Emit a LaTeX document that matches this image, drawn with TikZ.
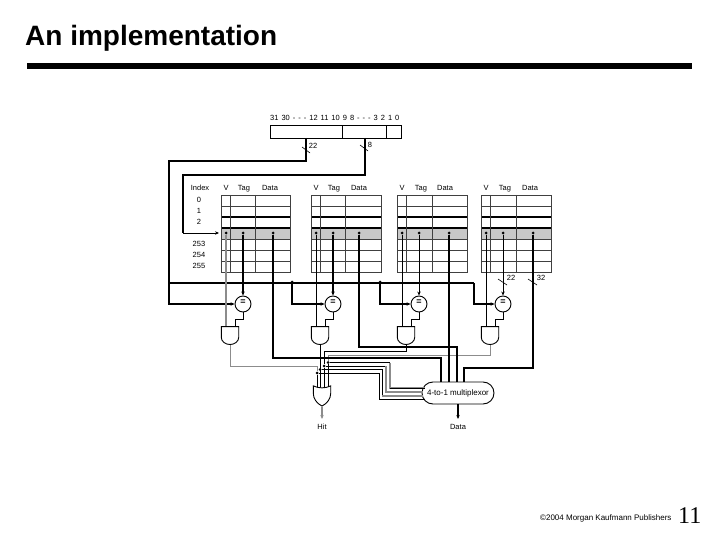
\documentclass[tikz,border=0pt]{standalone}
\usepackage{fontspec}
\setmainfont{Liberation Sans}
\newfontfamily\serifnum{Liberation Serif}
\usetikzlibrary{arrows.meta,calc,shapes.misc,shapes.gates.logic.US}
\definecolor{wiregray}{RGB}{140,140,140}
\definecolor{rowgray}{RGB}{200,200,200}
\tikzset{
    lbl/.style={inner sep=0pt, font=\fontsize{7.5}{8}\selectfont},
    grid/.style={line width=0.7pt, black!75},
    wire/.style={line width=1pt},
    tap/.style={line width=1.3pt},
    heavy/.style={line width=1.6pt},
    bus/.style={line width=2.2pt},
    gwire/.style={line width=1.4pt, wiregray},
    slash/.style={line width=0.6pt},
    dotnode/.style={circle, fill=black, inner sep=0pt, minimum size=3pt},
    cmp/.style={draw, circle, line width=0.9pt, inner sep=0pt, minimum size=16pt, font=\fontsize{9}{9}\selectfont\bfseries},
    andg/.style={and gate US, draw, line width=0.9pt, rotate=-90, xscale=0.82, minimum width=18pt, minimum height=16pt, inner sep=0pt},
    org/.style={or gate US, draw, line width=0.9pt, rotate=-90, xscale=0.85, minimum width=19pt, minimum height=16pt, inner sep=0pt},
}
\begin{document}
\begin{tikzpicture}[x=1pt, y=-1pt, >={Stealth[length=4pt,width=3.4pt]}]
    \useasboundingbox (0,0) rectangle (720,540);

    % Title
    \node[anchor=base west, inner sep=0pt, font=\fontsize{28}{30}\selectfont\bfseries] (title) at (25,46) {An implementation};
    \fill (27,63) rectangle (692,69);

    % Address
    \node[lbl, anchor=base west] (bits) at (270,121) {\spaceskip=3pt 31 30 - - - 12 11 10 9 8 - - - 3 2 1 0};
    \node[draw, line width=0.8pt, anchor=north west, inner sep=0pt, outer sep=0pt, minimum width=72pt, minimum height=12.5pt] (addrA) at (270,125.5) {};
    \node[draw, line width=0.8pt, anchor=north west, inner sep=0pt, outer sep=0pt, minimum width=44pt, minimum height=12.5pt] (addrB) at (addrA.north east) {};
    \node[draw, line width=0.8pt, anchor=north west, inner sep=0pt, outer sep=0pt, minimum width=15pt, minimum height=12.5pt] (addrC) at (addrB.north east) {};
    \coordinate (tagout) at (addrA.south -| 306,0);
    \coordinate (idxout) at (addrB.south -| 365,0);
    \node[lbl] (lblTag) at (313,146) {22};
    \node[lbl] (lblIdx) at (370,145) {8};

    % Index column
    \node[lbl, anchor=base] (idxhead) at (200,190.5) {Index};
    \foreach \r/\y in {0/200,1/211,2/222,253/244,254/255,255/266}
        \node[lbl] (row\r) at (199,\y) {\r};

    % Ways
    \foreach \n/\xa/\xb/\xc/\xd/\xv/\xt/\xr/\ht/\hd in {A/221/230/255/290/226/243/273/244/270,B/311/320/345/381/316/333/359/334/359,C/397/406/432/467/402/419/449/421/445,D/481/490/516/551/486/503/533/505/530} {
        \fill[rowgray] (\xa,228) rectangle (\xd,239);
        \foreach \y in {206,239,250,261}
            \draw[grid] (\xa,\y) -- (\xd,\y);
        \foreach \y in {217,228}
            \draw[line width=1.2pt] (\xa,\y) -- (\xd,\y);
        \draw[grid] (\xa,195) rectangle (\xd,272);
        \draw[grid] (\xb,195) -- (\xb,272);
        \draw[grid] (\xc,195) -- (\xc,272);
        \node[lbl, anchor=base] (headV\n) at (\xv,190.5) {V};
        \node[lbl, anchor=base] (headT\n) at (\ht,190.5) {Tag};
        \node[lbl, anchor=base] (headD\n) at (\hd,190.5) {Data};
        \node[dotnode] (v\n) at (\xv,233) {};
        \node[dotnode] (tag\n) at (\xt,233) {};
        \node[dotnode] (data\n) at (\xr,233) {};
        \node[cmp] (eq\n) at (\xt,304) {=};
        \node[andg] (and\n) at (\xv+4,335) {};
    }
    \coordinate (rowA) at (219,233);

    % Index wire
    \coordinate (idxbend) at (183,233);
    \draw[heavy] (idxout) -- ++(0,37) -| (idxbend);
    \draw[->, wire] (idxbend) -- (rowA);
    \draw[slash] (idxout) ++(-5,7) -- ++(8,6);

    % Tag bus
    \coordinate (busL) at (169,283);
    \coordinate (busR) at (474,283);
    \node[dotnode] (tapB) at (292,282) {};
    \node[dotnode] (tapC) at (380,282) {};
    \draw[heavy] (tagout) -- ++(0,23) -| (busL);
    \draw[slash] (tagout) ++(-4,9) -- ++(8,6);
    \draw[bus] (busL) -- (busR);
    \draw[->, tap] (busL) |- (eqA.west);
    \draw[->, tap] (tapB) |- (eqB.west);
    \draw[->, tap] (tapC) |- (eqC.west);
    \draw[->, tap] (busR) |- (eqD.west);

    % Tag to comparator
    \draw[->, heavy] (tagA) -- (eqA.north);
    \draw[->, heavy] (tagB) -- (eqB.north);
    \draw[->, wire] (tagC) -- (eqC.north);
    \draw[->, wire] (tagD) -- (eqD.north);
    \draw[slash] (tagD) ++(-5,46) -- ++(9,6);
    \node[lbl] (lblTagD) at (511,278) {22};

    % Valid to and
    \draw[gwire] (vA) -- (vA |- andA.west);
    \draw[wire] (vB) -- (vB |- andB.west);
    \draw[wire] (vC) -- (vC |- andC.west);
    \draw[wire] (vD) -- (vD |- andD.west);
    \foreach \n in {A,B,C,D}
        \draw[wire] (eq\n.south) -- ++(0,7) -| ($(and\n.west)+(5,0)$);

    % Or gate
    \node[org] (orgate) at (322,394.5) {};
    \node[dotnode] (selA) at (317,373) {};
    \node[dotnode] (selB) at (320,369.5) {};
    \node[dotnode] (selC) at (324,366) {};
    \node[dotnode] (selD) at (328,362.5) {};
    \draw[gwire, line width=1pt] (andA.east) -- ++(0,22) -| (selA);
    \draw[wire] (selA) -- (selA |- orgate.west);
    \draw[wire] (andB.east) -- (selB |- orgate.west);
    \draw[wire] (andC.east) -- ++(0,7) -| (selC) -- (selC |- orgate.west);
    \draw[gwire, line width=1pt] (andD.east) -- ++(0,11) -| (selD);
    \draw[wire] (selD) -- (selD |- orgate.west);

    % Multiplexor
    \node[draw, rounded rectangle, line width=0.9pt, fill=white, inner sep=0pt, minimum width=72pt, minimum height=22pt, font=\fontsize{8}{9}\selectfont] (mux) at (458,393) {4-to-1 multiplexor};
    \coordinate (muxA) at (425,388);
    \coordinate (muxB) at (423,392);
    \coordinate (muxC) at (423,396);
    \coordinate (muxD) at (425,399);
    \draw[wire] (selD) -- ++(62,0);
    \draw[gwire] ($(selD)+(62,0)$) |- (muxA);
    \draw[wire] ($(selD |- muxA)+(62,0)$) -- (muxA);
    \draw[wire] (selC) -- ++(62,0);
    \draw[gwire] ($(selC)+(62,0)$) |- (muxB);
    \draw[wire] (selB) -- ++(62,0) |- ($(selB |- muxC)+(62,0)$);
    \draw[gwire] ($(selB |- muxC)+(62,0)$) -- (muxC);
    \draw[wire] (selA) -- ++(62,0) |- (muxD);

    % Data to multiplexor
    \draw[heavy] (dataA) -- ++(0,125) -| ($(mux.north)+(-17,0)$);
    \draw[heavy] (dataB) -- ++(0,114) -| ($(mux.north)+(-1,0)$);
    \draw[heavy] (dataC) -- (dataC |- mux.north);
    \draw[heavy] (dataD) -- ++(0,135) -| ($(mux.north)+(6,0)$);
    \draw[slash] (dataD) ++(-5,46) -- ++(9,6);
    \node[lbl] (lblDataD) at (541,278) {32};

    % Outputs
    \coordinate (hitend) at (322,419);
    \coordinate (dataend) at (458,419);
    \draw[->, gwire] (orgate.east) -- (hitend);
    \draw[->, heavy] (mux.south) -- (dataend);
    \node[lbl] (hit) at (322,427) {Hit};
    \node[lbl] (dataout) at (458,427) {Data};

    % Footer
    \node[anchor=base west, inner sep=0pt, font=\fontsize{8}{9}\selectfont] (copy) at (540,520) {©2004 Morgan Kaufmann Publishers};
    \node[anchor=base west, inner sep=0pt, font=\serifnum\fontsize{24}{26}\selectfont] (page) at (678,523) {11};
\end{tikzpicture}
\end{document}
